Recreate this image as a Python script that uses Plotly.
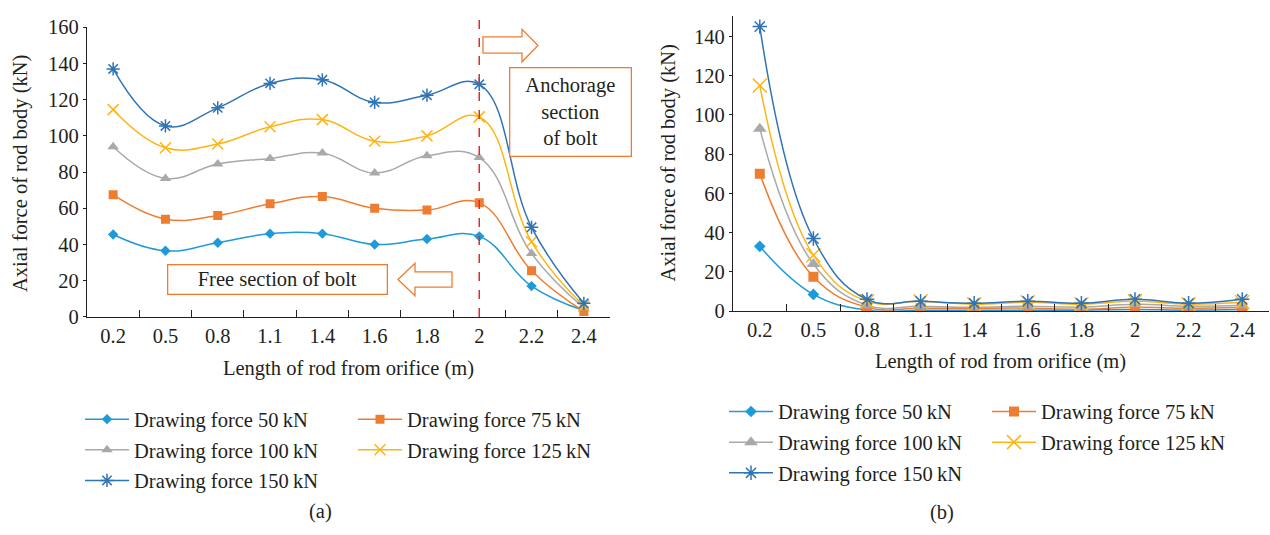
import plotly.graph_objects as go

W, H = 1270, 535

cats = ["0.2", "0.5", "0.8", "1.1", "1.4", "1.6", "1.8", "2", "2.2", "2.4"]
names = ["Drawing force 50\u2009kN", "Drawing force 75\u2009kN", "Drawing force 100\u2009kN",
         "Drawing force 125\u2009kN", "Drawing force 150\u2009kN"]
boundary_cat = "2"

# (a) free + anchorage section
a50 = [45.5, 36.5, 41, 46, 46, 40, 43, 44.5, 17, 3.5]
a75 = [67.5, 54, 56, 62.5, 66.5, 60, 59, 63, 25.5, 3]
a100 = [94, 76.5, 84.5, 87.5, 90.5, 79.5, 89, 88, 35, 5]
a125 = [114.5, 93.5, 95.5, 105, 109, 97, 100, 110.5, 41.5, 6]
a150 = [137, 105.5, 115.5, 129, 131, 118.5, 122.5, 128.5, 49.5, 7.5]

# (b)
b50 = [33, 8.5, 0.5, 0.5, 0.5, 0.5, 0.5, 0.8, 0.5, 0.8]
b75 = [70, 17.5, 2, 1.5, 1.5, 1.5, 1, 2, 1.5, 2]
b100 = [93, 24, 3, 2.5, 2, 2.5, 2, 3.5, 2.5, 3]
b125 = [115, 28.5, 5, 5, 3.5, 4.5, 3.5, 5, 3.5, 4.5]
b150 = [145, 37, 6, 5, 4, 5, 4, 6, 4, 6]

colors = ["#1f9ad8", "#ef7d31", "#a9a9aa", "#fdb515", "#2f74b5"]
FONT = "Liberation Serif"
TXT = "#231f20"
FS = 20.5


def px(x):
    return x / W


def py(y):
    return 1 - y / H


def marker_a(i):
    return [dict(symbol="diamond", size=8),
            dict(symbol="square", size=9),
            dict(symbol="triangle-up", size=10),
            dict(symbol="x-thin-open", size=11, line=dict(width=1.5, color=colors[3])),
            dict(symbol="asterisk-open", size=11, line=dict(width=1.5, color=colors[4]))][i]


def marker_b(i):
    return [dict(symbol="diamond", size=9),
            dict(symbol="square", size=10),
            dict(symbol="triangle-up", size=12),
            dict(symbol="x-thin-open", size=14, line=dict(width=1.5, color=colors[3])),
            dict(symbol="asterisk-open", size=12, line=dict(width=1.5, color=colors[4]))][i]


fig = go.Figure()
A = [a50, a75, a100, a125, a150]
B = [b50, b75, b100, b125, b150]
for i in range(5):
    m = marker_a(i)
    m["color"] = colors[i]
    fig.add_trace(go.Scatter(
        x=cats, y=A[i], name=names[i], mode="lines+markers",
        line=dict(shape="spline", smoothing=1.2, color=colors[i], width=1.5),
        marker=m, xaxis="x", yaxis="y",
        legend="legend" if i in (0, 2, 4) else "legend2", legendgroup="a%d" % i))
for i in range(5):
    m = marker_b(i)
    m["color"] = colors[i]
    fig.add_trace(go.Scatter(
        x=cats, y=B[i], name=names[i], mode="lines+markers",
        line=dict(shape="spline", smoothing=1.2, color=colors[i], width=1.5),
        marker=m, xaxis="x2", yaxis="y2",
        legend="legend3" if i in (0, 2, 4) else "legend4", legendgroup="b%d" % i))

xcommon = dict(type="category", categoryorder="array", categoryarray=cats,
               range=[-0.5, 9.5], showline=True, linecolor=TXT, linewidth=1.2,
               ticks="inside", tickson="boundaries", ticklen=7, tickcolor=TXT,
               showgrid=False, zeroline=False,
               tickfont=dict(family=FONT, size=FS, color=TXT))
ycommon = dict(showline=True, linecolor=TXT, linewidth=1.2, ticks="outside",
               ticklen=3, tickcolor=TXT, showgrid=False, zeroline=False, dtick=20,
               tickfont=dict(family=FONT, size=FS, color=TXT))

legcommon = dict(orientation="v", xanchor="left", yanchor="top", bgcolor="rgba(0,0,0,0)",
                 font=dict(family=FONT, size=FS, color=TXT), tracegroupgap=1,
                 traceorder="grouped", itemwidth=44)

fig.update_layout(
    width=W, height=H, margin=dict(l=0, r=0, t=0, b=0),
    paper_bgcolor="white", plot_bgcolor="white",
    font=dict(family=FONT, size=FS, color=TXT),
    xaxis=dict(domain=[px(87), px(610)], anchor="y", **xcommon),
    yaxis=dict(domain=[py(319), py(17)], anchor="x", range=[0, 160], **ycommon),
    xaxis2=dict(domain=[px(733), px(1269)], anchor="y2", **xcommon),
    yaxis2=dict(domain=[py(313), py(5)], anchor="x2", range=[0, 150.5], **ycommon),
    legend=dict(x=px(80), y=py(405), **legcommon),
    legend2=dict(x=px(353), y=py(405), **legcommon),
    legend3=dict(x=px(724), y=py(397), **legcommon),
    legend4=dict(x=px(987), y=py(397), **legcommon),
    showlegend=True,
)

ann = []
ann.append(dict(text="Length of rod from orifice (m)", x=px(348), y=py(373), xref="paper",
                yref="paper", showarrow=False, xanchor="center", yanchor="middle"))
ann.append(dict(text="Length of rod from orifice (m)", x=px(1001), y=py(366), xref="paper",
                yref="paper", showarrow=False, xanchor="center", yanchor="middle"))
ann.append(dict(text="Axial force of rod body (kN)", x=px(20), y=py(170), xref="paper",
                yref="paper", showarrow=False, textangle=-90, xanchor="center", yanchor="middle"))
ann.append(dict(text="Axial force of rod body (kN)", x=px(668), y=py(159), xref="paper",
                yref="paper", showarrow=False, textangle=-90, xanchor="center", yanchor="middle"))
ann.append(dict(text="(a)", x=px(320), y=py(522), xref="paper", yref="paper", showarrow=False,
                xanchor="center", yanchor="middle"))
ann.append(dict(text="(b)", x=px(942), y=py(523), xref="paper", yref="paper", showarrow=False,
                xanchor="center", yanchor="middle"))
ann.append(dict(text="Anchorage<br>section<br>of bolt", x=px(570), y=py(105.5), xref="paper",
                yref="paper", showarrow=False, xanchor="center", yanchor="middle",
                width=118, height=85, borderpad=1, bordercolor="#ef7d31", borderwidth=1.3,
                bgcolor="white"))
ann.append(dict(text="Free section of bolt", x=px(277), y=py(280), xref="paper",
                yref="paper", showarrow=False, xanchor="center", yanchor="middle",
                width=216, height=26, borderpad=1, bordercolor="#ef7d31", borderwidth=1.3,
                bgcolor="white"))
fig.update_layout(annotations=ann)


def poly(pts):
    return "M " + " L ".join("%f,%f" % (px(x), py(y)) for x, y in pts) + " Z"


bi = cats.index(boundary_cat)
shapes = [
    dict(type="line", xref="x", yref="paper", x0=bi, x1=bi, y0=py(319), y1=py(8),
         line=dict(color="#e8262d", width=1.5, dash="dash")),
    dict(type="path", xref="paper", yref="paper",
         path=poly([(483, 27), (522, 27), (522, 19), (538, 36), (522, 53), (522, 44), (483, 44)]),
         line=dict(color="#ef7d31", width=1.3), fillcolor="white"),
    dict(type="path", xref="paper", yref="paper",
         path=poly([(398, 280), (415, 263), (415, 272), (452, 272), (452, 288), (415, 288), (415, 297)]),
         line=dict(color="#ef7d31", width=1.3), fillcolor="white"),
]
fig.update_layout(shapes=shapes)

fig.write_html("out.html")
